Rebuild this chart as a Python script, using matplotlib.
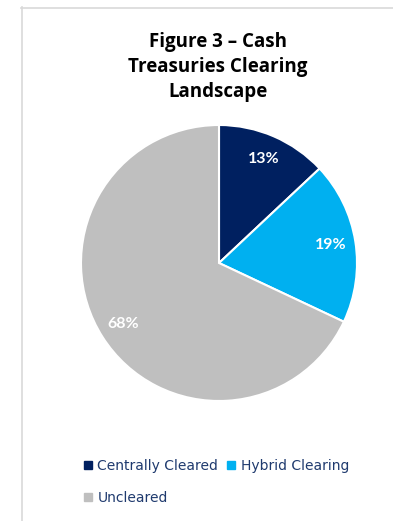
from matplotlib import pyplot as plt
from matplotlib.lines import Line2D

# chart data
categories = ["Centrally Cleared", "Hybrid Clearing", "Uncleared"]
shares = [13, 19, 68]
colors = ["#002060", "#00B0F0", "#BFBFBF"]
title = "Figure 3 \u2013 Cash\nTreasuries Clearing\nLandscape"

W, H = 393, 521
fig = plt.figure(figsize=(W / 100, H / 100), dpi=100)
fig.patch.set_facecolor("white")

# thin frame around the chart area (like the spreadsheet chart box)
fig.add_artist(Line2D([21.5 / W, 21.5 / W], [0, 1 - 7 / H], color="#D9D9D9", lw=1.2))
fig.add_artist(Line2D([21 / W, 1], [1 - 7.5 / H, 1 - 7.5 / H], color="#D9D9D9", lw=1.2))

fig.text(218 / W, 1 - 67 / H, title, ha="center", va="center",
         fontsize=13.5, fontweight="bold", family="Open Sans",
         linespacing=1.32, color="black")

ax = fig.add_axes([(219 - 138) / W, 1 - (263 + 138) / H, 276 / W, 276 / H])
wedges, texts, autotexts = ax.pie(
    shares, colors=colors, startangle=90, counterclock=False,
    autopct=lambda p: f"{p:.0f}%", pctdistance=0.82,
    wedgeprops=dict(edgecolor="white", linewidth=1.5),
    textprops=dict(color="white", fontsize=11.5, fontweight="bold", family="Lato"),
)
ax.set_xlim(-1, 1)
ax.set_ylim(-1, 1)
ax.set_aspect("equal")

# legend laid out as two rows: (Centrally, Hybrid) / (Uncleared)
order = [0, 2, 1]
handles = [Line2D([], [], marker="s", linestyle="none", markersize=6,
                  markerfacecolor=colors[i], markeredgecolor=colors[i]) for i in order]
leg = fig.legend(handles, [categories[i] for i in order], ncol=2, loc="upper left",
                 bbox_to_anchor=(78 / W, 1 - 453 / H), frameon=False,
                 handlelength=0.6, handletextpad=0.4, columnspacing=0.6,
                 labelspacing=1.3, borderaxespad=0,
                 prop=dict(family="DejaVu Sans", size=10))
for t in leg.get_texts():
    t.set_color("#1F3A6E")

fig.savefig("out.png", dpi=100, facecolor="white")
